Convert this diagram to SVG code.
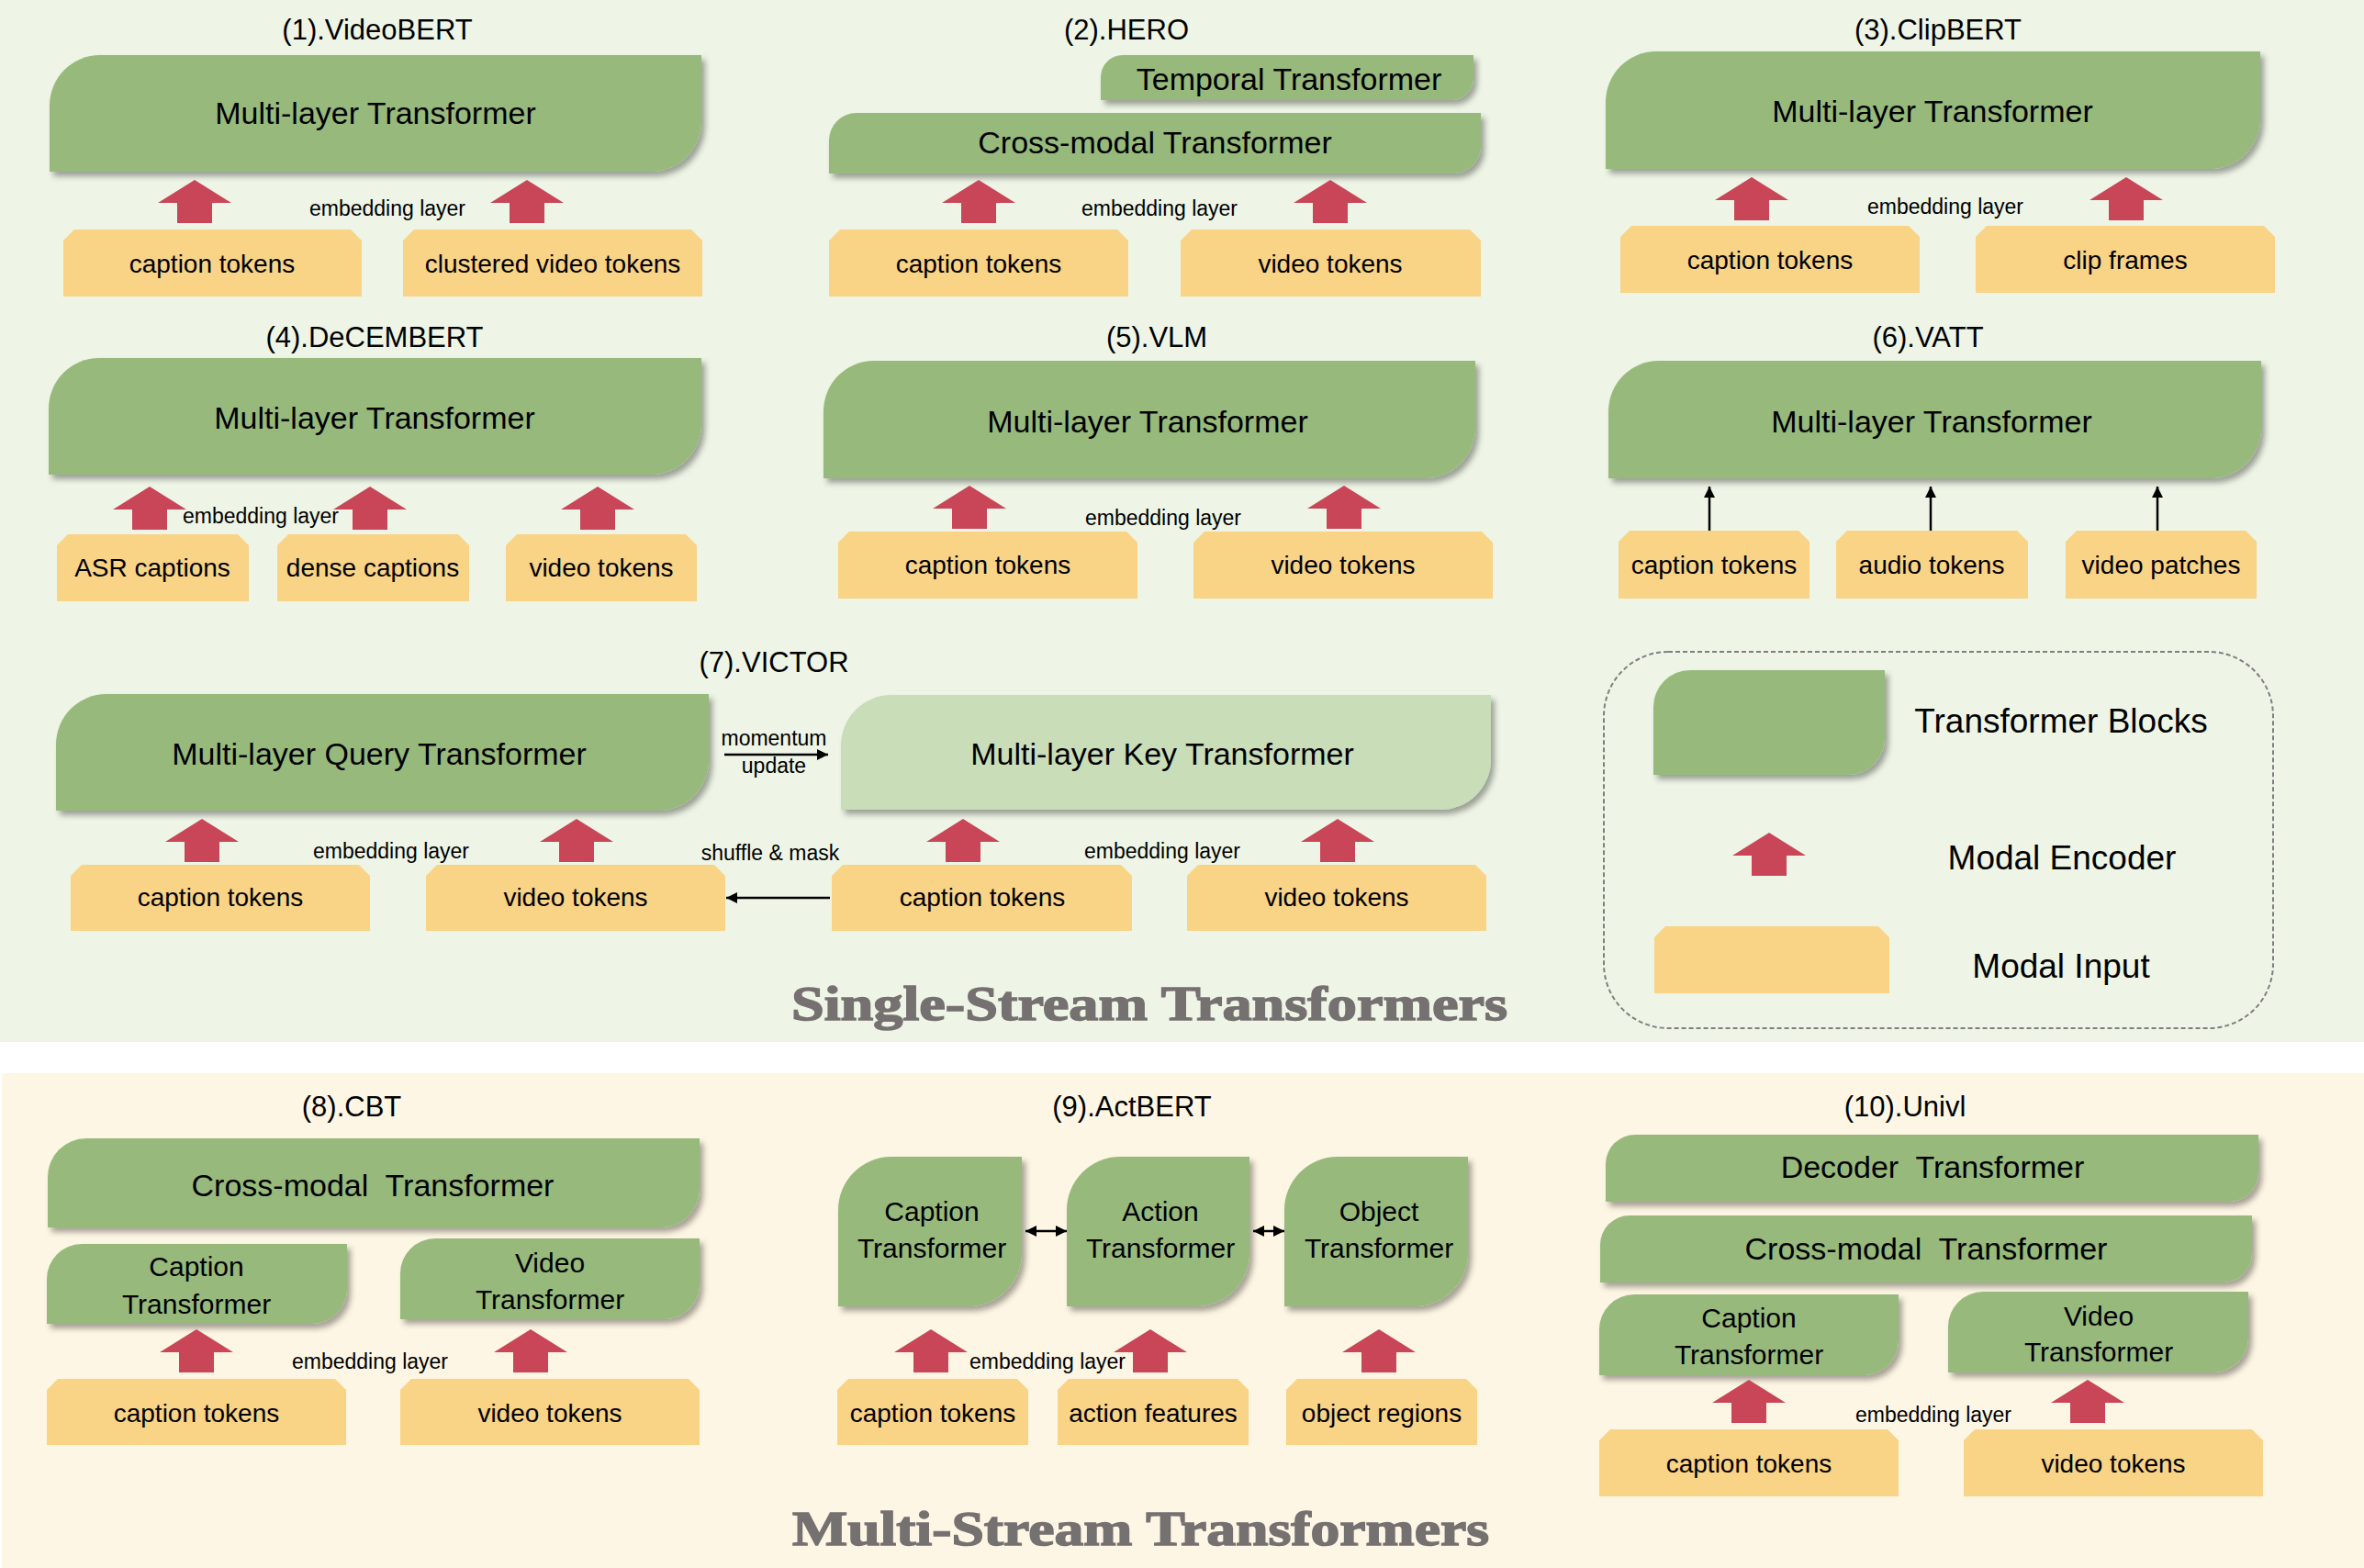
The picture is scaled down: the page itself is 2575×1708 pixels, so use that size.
<svg xmlns="http://www.w3.org/2000/svg" xmlns:xlink="http://www.w3.org/1999/xlink" width="2575" height="1708" viewBox="0 0 2575 1708">
<style>
text{font-family:"Liberation Sans",Arial,sans-serif;fill:#000;text-anchor:middle}
.t{font-size:31px}
.b{font-size:34px}
.b2{font-size:30px}
.i{font-size:28px}
.e{font-size:23px}
.lg{font-size:37px}
.sec{font-family:"Liberation Serif","Times New Roman",serif;font-weight:bold;font-size:53px;fill:#767171;stroke:#767171;stroke-width:1.5;text-anchor:start}
.tb{fill:#97BA7C;filter:url(#sh)}
.tk{fill:#C9DDB9;filter:url(#sh)}
.in{fill:#F9D386}
.enc{fill:#C84657}
.ln{stroke:#000;stroke-width:2.5;fill:none}
</style>
<defs>
<filter id="sh" x="-10%" y="-20%" width="125%" height="150%">
<feDropShadow dx="4" dy="5" stdDeviation="3" flood-color="#000" flood-opacity="0.35"/>
</filter>
<path id="enc" d="M0,0 L40,25 H19 V47 H-19 V25 H-40 Z"/>
<marker id="ah" viewBox="0 0 10 10" refX="10" refY="5" markerWidth="12" markerHeight="12" markerUnits="userSpaceOnUse" orient="auto-start-reverse">
<path d="M0,0 L10,5 L0,10 Z" fill="#000"/>
</marker>
</defs>

<rect x="0" y="0" width="2575" height="1135" fill="#EEF5E6"/>
<rect x="0" y="1135" width="2575" height="34" fill="#FFFFFF"/>
<rect x="2" y="1169" width="2573" height="539" fill="#FEF6E4"/>

<!-- Titles -->
<g id="titles">
<text class="t" x="411" y="43">(1).VideoBERT</text>
<text class="t" x="1227" y="43">(2).HERO</text>
<text class="t" x="2111" y="43">(3).ClipBERT</text>
<text class="t" x="408" y="378">(4).DeCEMBERT</text>
<text class="t" x="1260" y="378">(5).VLM</text>
<text class="t" x="2100" y="378">(6).VATT</text>
<text class="t" x="843" y="732">(7).VICTOR</text>
<text class="t" x="383" y="1216">(8).CBT</text>
<text class="t" x="1233" y="1216">(9).ActBERT</text>
<text class="t" x="2075" y="1216">(10).Univl</text>
<text class="sec" x="862" y="1111" textLength="780" lengthAdjust="spacingAndGlyphs">Single-Stream Transformers</text>
<text class="sec" x="863" y="1683" textLength="759" lengthAdjust="spacingAndGlyphs">Multi-Stream Transformers</text>
</g>

<!-- (1) VideoBERT -->
<g id="p1-transformer"><path class="tb" d="M54,115 A55,55 0 0 1 109,60 H764 V132 A55,55 0 0 1 709,187 H54 Z"/><text class="b" x="409" y="135">Multi-layer Transformer</text></g>
<g id="p1-caption"><path class="in" d="M69,262 L81,250 H382 L394,262 V323 H69 Z"/><text class="i" x="231" y="297">caption tokens</text></g>
<g id="p1-video"><path class="in" d="M439,262 L451,250 H753 L765,262 V323 H439 Z"/><text class="i" x="602" y="297">clustered video tokens</text></g>

<!-- (2) HERO -->
<g id="p2-temporal"><path class="tb" d="M1199,84 A24,24 0 0 1 1223,60 H1605 V85 A24,24 0 0 1 1581,109 H1199 Z"/><text class="b" x="1404" y="98">Temporal Transformer</text></g>
<g id="p2-cross"><path class="tb" d="M903,153 A30,30 0 0 1 933,123 H1613 V159 A30,30 0 0 1 1583,189 H903 Z"/><text class="b" x="1258" y="167">Cross-modal Transformer</text></g>
<g id="p2-caption"><path class="in" d="M903,262 L915,250 H1217 L1229,262 V323 H903 Z"/><text class="i" x="1066" y="297">caption tokens</text></g>
<g id="p2-video"><path class="in" d="M1286,262 L1298,250 H1601 L1613,262 V323 H1286 Z"/><text class="i" x="1449" y="297">video tokens</text></g>

<!-- (3) ClipBERT -->
<g id="p3-transformer"><path class="tb" d="M1749,111 A55,55 0 0 1 1804,56 H2462 V129 A55,55 0 0 1 2407,184 H1749 Z"/><text class="b" x="2105" y="133">Multi-layer Transformer</text></g>
<g id="p3-caption"><path class="in" d="M1765,258 L1777,246 H2079 L2091,258 V319 H1765 Z"/><text class="i" x="1928" y="293">caption tokens</text></g>
<g id="p3-frames"><path class="in" d="M2152,258 L2164,246 H2466 L2478,258 V319 H2152 Z"/><text class="i" x="2315" y="293">clip frames</text></g>

<!-- (4) DeCEMBERT -->
<g id="p4-transformer"><path class="tb" d="M53,445 A55,55 0 0 1 108,390 H764 V462 A55,55 0 0 1 709,517 H53 Z"/><text class="b" x="408" y="467">Multi-layer Transformer</text></g>
<g id="p4-asr"><path class="in" d="M62,594 L74,582 H259 L271,594 V655 H62 Z"/><text class="i" x="166" y="628">ASR captions</text></g>
<g id="p4-dense"><path class="in" d="M302,594 L314,582 H499 L511,594 V655 H302 Z"/><text class="i" x="406" y="628">dense captions</text></g>
<g id="p4-video"><path class="in" d="M551,594 L563,582 H747 L759,594 V655 H551 Z"/><text class="i" x="655" y="628">video tokens</text></g>

<!-- (5) VLM -->
<g id="p5-transformer"><path class="tb" d="M897,448 A55,55 0 0 1 952,393 H1607 V466 A55,55 0 0 1 1552,521 H897 Z"/><text class="b" x="1250" y="471">Multi-layer Transformer</text></g>
<g id="p5-caption"><path class="in" d="M913,591 L925,579 H1227 L1239,591 V652 H913 Z"/><text class="i" x="1076" y="625">caption tokens</text></g>
<g id="p5-video"><path class="in" d="M1300,591 L1312,579 H1614 L1626,591 V652 H1300 Z"/><text class="i" x="1463" y="625">video tokens</text></g>

<!-- (6) VATT -->
<g id="p6-transformer"><path class="tb" d="M1752,448 A55,55 0 0 1 1807,393 H2463 V466 A55,55 0 0 1 2408,521 H1752 Z"/><text class="b" x="2104" y="471">Multi-layer Transformer</text></g>
<g id="p6-caption"><path class="in" d="M1763,590 L1775,578 H1959 L1971,590 V652 H1763 Z"/><text class="i" x="1867" y="625">caption tokens</text></g>
<g id="p6-audio"><path class="in" d="M2000,590 L2012,578 H2197 L2209,590 V652 H2000 Z"/><text class="i" x="2104" y="625">audio tokens</text></g>
<g id="p6-video"><path class="in" d="M2250,590 L2262,578 H2446 L2458,590 V652 H2250 Z"/><text class="i" x="2354" y="625">video patches</text></g>

<!-- (7) VICTOR -->
<g id="p7-query"><path class="tb" d="M61,811 A55,55 0 0 1 116,756 H772 V828 A55,55 0 0 1 717,883 H61 Z"/><text class="b" x="413" y="833">Multi-layer Query Transformer</text></g>
<g id="p7-key"><path class="tk" d="M916,812 A55,55 0 0 1 971,757 H1624 V827 A55,55 0 0 1 1569,882 H916 Z"/><text class="b" x="1266" y="833">Multi-layer Key Transformer</text></g>
<g id="p7-caption1"><path class="in" d="M77,954 L89,942 H391 L403,954 V1014 H77 Z"/><text class="i" x="240" y="987">caption tokens</text></g>
<g id="p7-video1"><path class="in" d="M464,954 L476,942 H778 L790,954 V1014 H464 Z"/><text class="i" x="627" y="987">video tokens</text></g>
<g id="p7-caption2"><path class="in" d="M906,954 L918,942 H1221 L1233,954 V1014 H906 Z"/><text class="i" x="1070" y="987">caption tokens</text></g>
<g id="p7-video2"><path class="in" d="M1293,954 L1305,942 H1607 L1619,954 V1014 H1293 Z"/><text class="i" x="1456" y="987">video tokens</text></g>

<!-- Legend -->
<g id="legend">
<rect x="1747" y="710" width="729" height="410" rx="70" ry="70" fill="none" stroke="#7F7F7F" stroke-width="2" stroke-dasharray="5 3"/>
<g id="legend-block"><path class="tb" d="M1801,770 A40,40 0 0 1 1841,730 H2053 V804 A40,40 0 0 1 2013,844 H1801 Z"/><text class="lg" x="2245" y="798">Transformer Blocks</text></g>
<g id="legend-encoder"><use href="#enc" x="1927" y="907" class="enc"/><text class="lg" x="2246" y="947">Modal Encoder</text></g>
<g id="legend-input"><path class="in" d="M1802,1021 L1814,1009 H2046 L2058,1021 V1082 H1802 Z"/><text class="lg" x="2245" y="1065">Modal Input</text></g>
</g>

<!-- (8) CBT -->
<g id="p8-cross"><path class="tb" d="M52,1282 A42,42 0 0 1 94,1240 H762 V1295 A42,42 0 0 1 720,1337 H52 Z"/><text class="b" x="406" y="1303" xml:space="preserve">Cross-modal  Transformer</text></g>
<g id="p8-captiontf"><path class="tb" d="M51,1393 A38,38 0 0 1 89,1355 H378 V1404 A38,38 0 0 1 340,1442 H51 Z"/><text class="b2" x="214" y="1390">Caption</text><text class="b2" x="214" y="1431">Transformer</text></g>
<g id="p8-videotf"><path class="tb" d="M436,1387 A38,38 0 0 1 474,1349 H762 V1399 A38,38 0 0 1 724,1437 H436 Z"/><text class="b2" x="599" y="1386">Video</text><text class="b2" x="599" y="1426">Transformer</text></g>
<g id="p8-caption"><path class="in" d="M51,1514 L63,1502 H365 L377,1514 V1574 H51 Z"/><text class="i" x="214" y="1549">caption tokens</text></g>
<g id="p8-video"><path class="in" d="M436,1514 L448,1502 H750 L762,1514 V1574 H436 Z"/><text class="i" x="599" y="1549">video tokens</text></g>

<!-- (9) ActBERT -->
<g id="p9-captiontf"><path class="tb" d="M913,1318 A58,58 0 0 1 971,1260 H1113 V1365 A58,58 0 0 1 1055,1423 H913 Z"/><text class="b2" x="1015" y="1330">Caption</text><text class="b2" x="1015" y="1370">Transformer</text></g>
<g id="p9-actiontf"><path class="tb" d="M1162,1318 A58,58 0 0 1 1220,1260 H1361 V1365 A58,58 0 0 1 1303,1423 H1162 Z"/><text class="b2" x="1264" y="1330">Action</text><text class="b2" x="1264" y="1370">Transformer</text></g>
<g id="p9-objecttf"><path class="tb" d="M1399,1318 A58,58 0 0 1 1457,1260 H1599 V1365 A58,58 0 0 1 1541,1423 H1399 Z"/><text class="b2" x="1502" y="1330">Object</text><text class="b2" x="1502" y="1370">Transformer</text></g>
<g id="p9-caption"><path class="in" d="M912,1514 L924,1502 H1108 L1120,1514 V1574 H912 Z"/><text class="i" x="1016" y="1549">caption tokens</text></g>
<g id="p9-action"><path class="in" d="M1152,1514 L1164,1502 H1348 L1360,1514 V1574 H1152 Z"/><text class="i" x="1256" y="1549">action features</text></g>
<g id="p9-object"><path class="in" d="M1401,1514 L1413,1502 H1597 L1609,1514 V1574 H1401 Z"/><text class="i" x="1505" y="1549">object regions</text></g>

<!-- (10) Univl -->
<g id="p10-decoder"><path class="tb" d="M1749,1268 A32,32 0 0 1 1781,1236 H2460 V1277 A32,32 0 0 1 2428,1309 H1749 Z"/><text class="b" x="2105" y="1283" xml:space="preserve">Decoder  Transformer</text></g>
<g id="p10-cross"><path class="tb" d="M1743,1356 A32,32 0 0 1 1775,1324 H2453 V1365 A32,32 0 0 1 2421,1397 H1743 Z"/><text class="b" x="2098" y="1372" xml:space="preserve">Cross-modal  Transformer</text></g>
<g id="p10-captiontf"><path class="tb" d="M1742,1448 A38,38 0 0 1 1780,1410 H2068 V1460 A38,38 0 0 1 2030,1498 H1742 Z"/><text class="b2" x="1905" y="1446">Caption</text><text class="b2" x="1905" y="1486">Transformer</text></g>
<g id="p10-videotf"><path class="tb" d="M2122,1445 A38,38 0 0 1 2160,1407 H2449 V1457 A38,38 0 0 1 2411,1495 H2122 Z"/><text class="b2" x="2286" y="1444">Video</text><text class="b2" x="2286" y="1483">Transformer</text></g>
<g id="p10-caption"><path class="in" d="M1742,1569 L1754,1557 H2056 L2068,1569 V1630 H1742 Z"/><text class="i" x="1905" y="1604">caption tokens</text></g>
<g id="p10-video"><path class="in" d="M2139,1569 L2151,1557 H2453 L2465,1569 V1630 H2139 Z"/><text class="i" x="2302" y="1604">video tokens</text></g>

<!-- Connectors -->
<g id="connectors">
<g class="enc">
<use href="#enc" x="212" y="196"/><use href="#enc" x="574" y="196"/>
<use href="#enc" x="1066" y="196"/><use href="#enc" x="1449" y="196"/>
<use href="#enc" x="1908" y="193"/><use href="#enc" x="2316" y="193"/>
<use href="#enc" x="163" y="530"/><use href="#enc" x="403" y="530"/><use href="#enc" x="651" y="530"/>
<use href="#enc" x="1056" y="529"/><use href="#enc" x="1464" y="529"/>
<use href="#enc" x="220" y="892"/><use href="#enc" x="628" y="892"/><use href="#enc" x="1049" y="892"/><use href="#enc" x="1457" y="892"/>
<use href="#enc" x="214" y="1448"/><use href="#enc" x="578" y="1448"/>
<use href="#enc" x="1014" y="1448"/><use href="#enc" x="1253" y="1448"/><use href="#enc" x="1502" y="1448"/>
<use href="#enc" x="1905" y="1503"/><use href="#enc" x="2274" y="1503"/>
</g>
<line class="ln" x1="1862" y1="578" x2="1862" y2="530" marker-end="url(#ah)"/>
<line class="ln" x1="2103" y1="578" x2="2103" y2="530" marker-end="url(#ah)"/>
<line class="ln" x1="2350" y1="578" x2="2350" y2="530" marker-end="url(#ah)"/>
<line class="ln" x1="789" y1="822" x2="902" y2="822" marker-end="url(#ah)"/>
<line class="ln" x1="904" y1="978" x2="791" y2="978" marker-end="url(#ah)"/>
<line class="ln" x1="1117" y1="1341" x2="1162" y2="1341" marker-start="url(#ah)" marker-end="url(#ah)"/>
<line class="ln" x1="1365" y1="1341" x2="1399" y2="1341" marker-start="url(#ah)" marker-end="url(#ah)"/>
</g>

<!-- Connector labels -->
<g id="labels">
<text class="e" x="422" y="235">embedding layer</text>
<text class="e" x="1263" y="235">embedding layer</text>
<text class="e" x="2119" y="233">embedding layer</text>
<text class="e" x="284" y="570">embedding layer</text>
<text class="e" x="1267" y="572">embedding layer</text>
<text class="e" x="426" y="935">embedding layer</text>
<text class="e" x="1266" y="935">embedding layer</text>
<text class="e" x="839" y="937">shuffle &amp; mask</text>
<text class="e" x="843" y="812">momentum</text>
<text class="e" x="843" y="842">update</text>
<text class="e" x="403" y="1491">embedding layer</text>
<text class="e" x="1141" y="1491">embedding layer</text>
<text class="e" x="2106" y="1549">embedding layer</text>
</g>
</svg>
